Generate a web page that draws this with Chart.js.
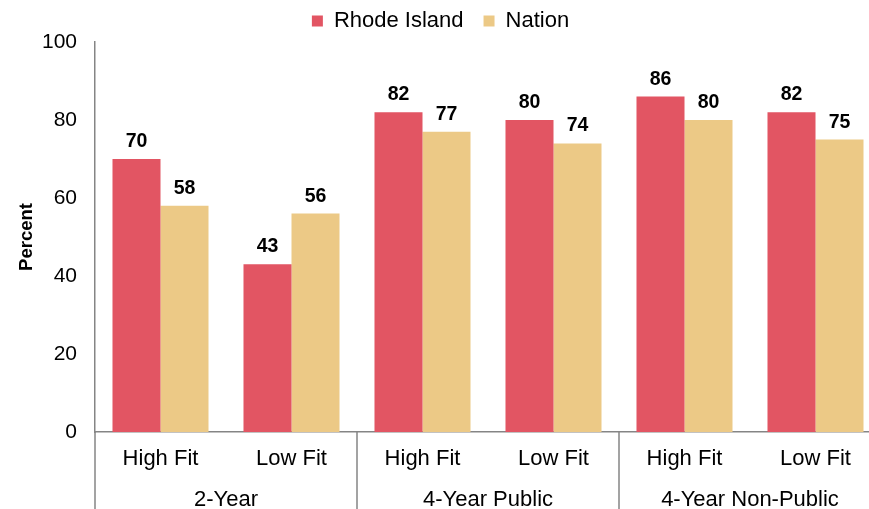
<!DOCTYPE html>
<html>
<head>
<meta charset="utf-8">
<script src="https://cdn.jsdelivr.net/npm/chart.js@4.4.0/dist/chart.umd.min.js"></script>
<style>
  html, body { margin: 0; padding: 0; background: #ffffff; overflow: hidden; }
  #wrap { position: relative; width: 896px; height: 509px; }
</style>
</head>
<body>
<div id="wrap"><canvas id="c"></canvas></div>
<script>
const categories = ["High Fit", "Low Fit", "High Fit", "Low Fit", "High Fit", "Low Fit"];
const groups = ["2-Year", "4-Year Public", "4-Year Non-Public"];
const rhodeIsland = [70, 43, 82, 80, 86, 82];
const nation = [58, 56, 77, 74, 80, 75];
const yTicks = [0, 20, 40, 60, 80, 100];

const FONT = "'Liberation Sans', Arial, Helvetica, sans-serif";
const AXIS_COLOR = "#858585";

const valueLabels = {
  id: 'valueLabels',
  afterDatasetsDraw(chart) {
    const ctx = chart.ctx;
    ctx.save();
    ctx.font = "bold 19.5px " + FONT;
    ctx.fillStyle = "#000000";
    ctx.textAlign = "center";
    ctx.textBaseline = "alphabetic";
    chart.data.datasets.forEach((ds, di) => {
      const meta = chart.getDatasetMeta(di);
      meta.data.forEach((bar, i) => {
        ctx.fillText(String(ds.data[i]), bar.x, bar.y - 12);
      });
    });
    ctx.restore();
  }
};

const separators = {
  id: 'separators',
  afterDraw(chart) {
    const x = chart.scales.x;
    const ctx = chart.ctx;
    const top = chart.chartArea.bottom;
    const bottom = chart.height;
    const per = categories.length / groups.length;
    ctx.save();
    ctx.strokeStyle = AXIS_COLOR;
    ctx.lineWidth = 1.5;
    for (let g = 0; g <= groups.length; g++) {
      let px;
      const idx = g * per;
      if (idx === 0) px = x.left;
      else if (idx >= categories.length) px = x.right;
      else px = (x.getPixelForValue(idx - 1) + x.getPixelForValue(idx)) / 2;
      ctx.beginPath();
      ctx.moveTo(px, top);
      ctx.lineTo(px, bottom);
      ctx.stroke();
    }
    ctx.restore();
  }
};

new Chart(document.getElementById('c'), {
  type: 'bar',
  data: {
    labels: categories,
    datasets: [
      { label: 'Rhode Island', data: rhodeIsland, backgroundColor: '#E25563', borderWidth: 0 },
      { label: 'Nation', data: nation, backgroundColor: '#ECC986', borderWidth: 0 }
    ]
  },
  options: {
    responsive: true,
    maintainAspectRatio: false,
    animation: false,
    layout: { padding: { left: 0, right: 15, top: -10, bottom: 0 } },
    datasets: { bar: { categoryPercentage: 0.733, barPercentage: 1.0 } },
    plugins: {
      legend: {
        position: 'top',
        labels: {
          font: { family: FONT, size: 22 },
          color: '#000000',
          boxWidth: 11,
          boxHeight: 11,
          padding: 20
        }
      },
      tooltip: { enabled: false }
    },
    scales: {
      y: {
        min: 0, max: 100,
        afterBuildTicks(scale) { scale.ticks = yTicks.map(v => ({ value: v })); },
        afterFit(scale) { scale.width = 95; },
        grid: { display: false, drawTicks: false },
        border: { display: true, color: AXIS_COLOR, width: 1.5 },
        ticks: { font: { family: FONT, size: 21 }, color: '#000000', padding: 18 },
        title: { display: true, text: 'Percent', font: { family: FONT, size: 18.5, weight: 'bold' }, color: '#000000', padding: { top: 16, bottom: 0 } }
      },
      x: {
        position: 'bottom',
        afterFit(scale) { scale.height = 40; },
        grid: { display: false, drawTicks: false },
        border: { display: true, color: AXIS_COLOR, width: 1.5 },
        ticks: { font: { family: FONT, size: 22 }, color: '#000000', padding: 14, maxRotation: 0, autoSkip: false }
      },
      x2: {
        type: 'category',
        labels: groups,
        position: 'bottom',
        offset: true,
        afterFit(scale) { scale.height = 37; },
        grid: { display: false, drawTicks: false },
        border: { display: false },
        ticks: { font: { family: FONT, size: 22 }, color: '#000000', padding: 15, maxRotation: 0, autoSkip: false }
      }
    }
  },
  plugins: [valueLabels, separators]
});
</script>
</body>
</html>
